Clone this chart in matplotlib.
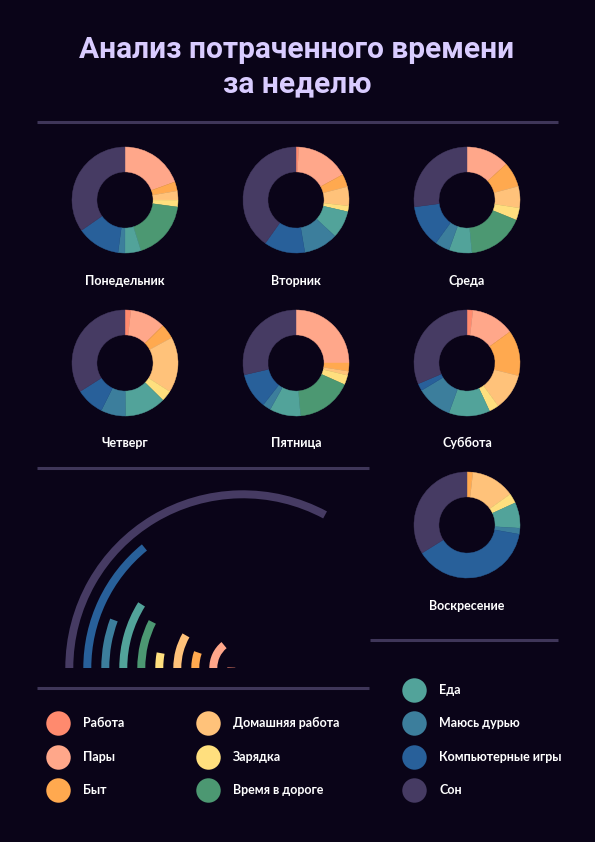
import matplotlib
matplotlib.use("Agg")
import matplotlib.pyplot as plt
import numpy as np

# ---------------- data ----------------
categories = ['Работа', 'Пары', 'Быт', 'Домашняя работа', 'Зарядка',
              'Время в дороге', 'Еда', 'Маюсь дурью', 'Компьютерные игры', 'Сон']
days = ['Понедельник', 'Вторник', 'Среда', 'Четверг', 'Пятница', 'Суббота', 'Воскресение']

monday    = [0.00, 4.67, 0.67, 0.67, 0.50, 4.33, 1.17, 0.50, 3.17, 8.33]
tuesday   = [0.20, 3.90, 0.93, 1.40, 0.43, 0.00, 2.00, 2.50, 3.00, 9.64]
wednesday = [0.00, 3.17, 1.83, 1.58, 0.90, 4.17, 1.67, 1.08, 3.10, 6.50]
thursday  = [0.43, 2.60, 1.07, 4.07, 0.80, 0.00, 3.00, 1.80, 2.07, 8.16]
friday    = [0.00, 6.00, 0.60, 0.30, 0.70, 4.07, 2.27, 0.60, 2.60, 6.86]
saturday  = [0.43, 3.17, 3.33, 2.67, 0.73, 0.00, 3.00, 2.60, 0.53, 7.54]
sunday    = [0.00, 0.00, 0.43, 3.20, 0.73, 0.00, 1.87, 0.44, 9.20, 8.13]
week_hours = 168

colors = ['#FF8A6E', '#FFA78A', '#FFA94F', '#FFC27A', '#FFDF7E',
          '#4C9872', '#52A39A', '#3C7E9C', '#28609A', '#463B63']

BG = '#0A0418'
LINE = '#3F3659'
TITLE = '#D9CCFF'

W, H = 595, 842
fig = plt.figure(figsize=(W / 100, H / 100), dpi=100, facecolor=BG)

# overlay axes in pixel coordinates
ov = fig.add_axes([0, 0, 1, 1], zorder=0)
ov.set_xlim(0, W)
ov.set_ylim(H, 0)
ov.set_facecolor(BG)
ov.axis('off')

ov.text(297, 50, 'Анализ потраченного времени', ha='center', va='center',
        color=TITLE, fontsize=21.5, fontweight='bold', family=['Roboto', 'DejaVu Sans'])
ov.text(297, 84, 'за неделю', ha='center', va='center',
        color=TITLE, fontsize=21.5, fontweight='bold', family=['Roboto', 'DejaVu Sans'])

for (x0, x1, y) in [(37, 558, 122), (37, 369, 468), (370, 558, 640), (37, 369, 688)]:
    ov.plot([x0, x1], [y, y], color=LINE, lw=2.2, solid_capstyle='butt')

# donuts
day_data = [monday, tuesday, wednesday, thursday, friday, saturday, sunday]
centers = [(125, 200), (296, 200), (467, 200),
           (125, 363), (296, 363), (467, 363),
           (467, 525)]
label_y = [281, 281, 281, 443, 443, 443, 606]
R = 53
for name, vals, (cx, cy), ly in zip(days, day_data, centers, label_y):
    ax = fig.add_axes([(cx - R) / W, 1 - (cy + R) / H, 2 * R / W, 2 * R / H], zorder=2)
    wedges, _ = ax.pie(vals, colors=colors, startangle=90, counterclock=False, radius=1,
                       wedgeprops=dict(width=0.47, linewidth=0.3))
    for wdg in wedges:
        wdg.set_edgecolor(wdg.get_facecolor())
    ax.set_xlim(-1, 1)
    ax.set_ylim(-1, 1)
    ax.axis('off')
    ov.text(cx, ly, name, ha='center', va='center', color='white',
            fontsize=9, fontweight='bold', family=['Lato', 'DejaVu Sans'])

# radial bar chart of weekly totals
totals = np.sum(np.array(day_data), axis=0)
cx, cy, RR = 243, 668, 180
pax = fig.add_axes([(cx - RR) / W, 1 - (cy + RR) / H, 2 * RR / W, 2 * RR / H],
                   projection='polar', zorder=3)
pax.set_theta_zero_location('W')
pax.set_theta_direction(-1)
pax.set_ylim(0, RR)
radii = 11.7 + 18 * np.arange(len(categories))
thick = 8
pax.bar(np.zeros(len(categories)), np.full(len(categories), thick),
        width=totals / week_hours * 2 * np.pi, bottom=radii - thick / 2,
        color=colors, align='edge', linewidth=0)
pax.set_axis_off()
pax.patch.set_alpha(0)

# legend
leg_pos = [(58, 723), (58, 757), (58, 790),
           (208, 723), (208, 757), (208, 790),
           (414, 690), (414, 723), (414, 757), (414, 790)]
for cat, col, (lx, ly) in zip(categories, colors, leg_pos):
    ov.scatter([lx], [ly], s=310, color=col, linewidths=0)
    ov.text(lx + 25, ly, cat, ha='left', va='center', color='white',
            fontsize=9, fontweight='bold', family=['Lato', 'DejaVu Sans'])

fig.savefig('out.png', dpi=100, facecolor=BG)
